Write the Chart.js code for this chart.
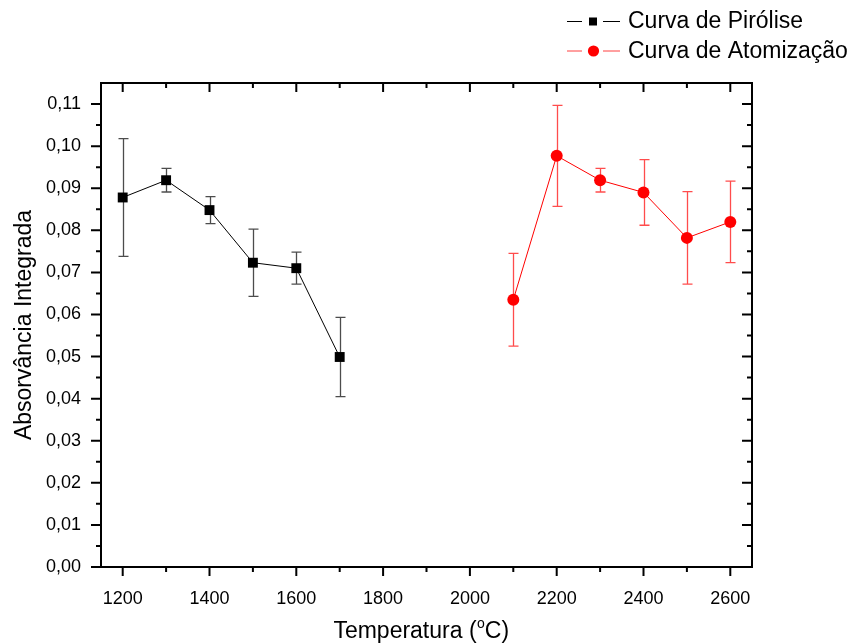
<!DOCTYPE html>
<html lang="pt">
<head>
    <meta charset="UTF-8">
    <title>Curvas de Pirólise e Atomização</title>
    <script src="https://cdn.jsdelivr.net/npm/chart.js"></script>
    <style>
        body { margin: 0; background: #fff; }
    </style>
</head>
<body>
    <canvas id="grafico" width="855" height="643"></canvas>

    <script>
        // dados
        const tempPirolise = [1200, 1300, 1400, 1500, 1600, 1700];
        const absPirolise = [0.0878, 0.0919, 0.0848, 0.0723, 0.0710, 0.0499];
        const erroPirolise = [0.0140, 0.0028, 0.0032, 0.0080, 0.0038, 0.0094];

        const tempAtomizacao = [2100, 2200, 2300, 2400, 2500, 2600];
        const absAtomizacao = [0.0635, 0.0977, 0.0919, 0.0890, 0.0782, 0.0820];
        const erroAtomizacao = [0.0110, 0.0120, 0.0028, 0.0078, 0.0110, 0.0097];

        // ticks com rótulo e ticks menores
        const ticksX = [1200, 1400, 1600, 1800, 2000, 2200, 2400, 2600];
        const ticksXMenores = [1300, 1500, 1700, 1900, 2100, 2300, 2500];
        const ticksY = [0, 0.01, 0.02, 0.03, 0.04, 0.05, 0.06, 0.07, 0.08, 0.09, 0.10, 0.11];
        const ticksYMenores = [0.005, 0.015, 0.025, 0.035, 0.045, 0.055, 0.065, 0.075, 0.085, 0.095, 0.105];

        const nomes = ['Curva de Pirólise', 'Curva de Atomização'];
        const cores = ['#000000', '#ff0000'];

        const fonte = '"Liberation Sans", Arial, sans-serif';

        function pontos(xs, ys) {
            return xs.map((x, i) => ({ x: x, y: ys[i] }));
        }

        function ehMaior(lista, v) {
            return lista.some(t => Math.abs(t - v) < 1e-9);
        }

        // barras de erro, eixos com ticks, legenda e títulos
        const extras = {
            id: 'extras',
            beforeDatasetsDraw(chart) {
                const ctx = chart.ctx;
                const sx = chart.scales.x, sy = chart.scales.y;
                const series = [
                    [tempPirolise, absPirolise, erroPirolise, 'rgba(0,0,0,0.7)'],
                    [tempAtomizacao, absAtomizacao, erroAtomizacao, 'rgba(255,0,0,0.7)']
                ];
                ctx.save();
                ctx.lineWidth = 1.3;
                series.forEach(([xs, ys, es, cor]) => {
                    ctx.strokeStyle = cor;
                    xs.forEach((t, i) => {
                        const px = Math.round(sx.getPixelForValue(t)) + 0.5;
                        const y1 = sy.getPixelForValue(ys[i] + es[i]);
                        const y2 = sy.getPixelForValue(ys[i] - es[i]);
                        ctx.beginPath();
                        ctx.moveTo(px, y1); ctx.lineTo(px, y2);
                        ctx.moveTo(px - 5, y1); ctx.lineTo(px + 5, y1);
                        ctx.moveTo(px - 5, y2); ctx.lineTo(px + 5, y2);
                        ctx.stroke();
                    });
                });
                ctx.restore();
            },
            afterDraw(chart) {
                const ctx = chart.ctx;
                const a = chart.chartArea;
                const sx = chart.scales.x, sy = chart.scales.y;
                ctx.save();
                ctx.strokeStyle = '#000';
                ctx.lineWidth = 2;
                ctx.strokeRect(a.left, a.top, a.right - a.left, a.bottom - a.top);

                ctx.beginPath();
                sx.ticks.forEach(t => {
                    const px = sx.getPixelForValue(t.value);
                    const len = ehMaior(ticksX, t.value) ? 9 : 5;
                    ctx.moveTo(px, a.bottom); ctx.lineTo(px, a.bottom + len);
                    ctx.moveTo(px, a.top); ctx.lineTo(px, a.top + len);
                });
                sy.ticks.forEach(t => {
                    const py = sy.getPixelForValue(t.value);
                    const len = ehMaior(ticksY, t.value) ? 10 : 5;
                    ctx.moveTo(a.left, py); ctx.lineTo(a.left - len, py);
                    ctx.moveTo(a.right, py); ctx.lineTo(a.right - len, py);
                });
                ctx.stroke();

                // legenda
                ctx.font = '23px ' + fonte;
                ctx.textBaseline = 'middle';
                const linhas = [21, 50.5];
                linhas.forEach((y, i) => {
                    ctx.strokeStyle = i === 0 ? '#000' : 'rgba(255,0,0,0.75)';
                    ctx.lineWidth = 1;
                    ctx.beginPath();
                    ctx.moveTo(567, y + 0.5); ctx.lineTo(582, y + 0.5);
                    ctx.moveTo(603, y + 0.5); ctx.lineTo(620, y + 0.5);
                    ctx.stroke();
                    ctx.fillStyle = cores[i];
                    if (i === 0) {
                        ctx.fillRect(589, y - 3.5, 8, 8);
                    } else {
                        ctx.beginPath();
                        ctx.arc(593.5, y + 0.5, 5.6, 0, Math.PI * 2);
                        ctx.fill();
                    }
                    ctx.fillStyle = '#000';
                    ctx.fillText(nomes[i], 628, y + 1);
                });

                // título do eixo y
                ctx.save();
                ctx.translate(31, (a.top + a.bottom) / 2);
                ctx.rotate(-Math.PI / 2);
                ctx.textAlign = 'center';
                ctx.textBaseline = 'alphabetic';
                ctx.font = '23px ' + fonte;
                ctx.fillText('Absorvância Integrada', 0, 0);
                ctx.restore();

                // título do eixo x com "o" sobrescrito
                const cx = 421;
                const ty = 638;
                const p1 = 'Temperatura (', p3 = 'C)';
                ctx.font = '23px ' + fonte;
                const w1 = ctx.measureText(p1).width, w3 = ctx.measureText(p3).width;
                ctx.font = '14px ' + fonte;
                const w2 = ctx.measureText('o').width;
                const x0 = cx - (w1 + w2 + w3) / 2;
                ctx.textAlign = 'left';
                ctx.textBaseline = 'alphabetic';
                ctx.font = '23px ' + fonte;
                ctx.fillText(p1, x0, ty);
                ctx.font = '14px ' + fonte;
                ctx.fillText('o', x0 + w1 + 0.5, ty - 10);
                ctx.font = '23px ' + fonte;
                ctx.fillText(p3, x0 + w1 + w2 + 0.5, ty);
                ctx.restore();
            }
        };

        const ctx = document.getElementById('grafico').getContext('2d');
        new Chart(ctx, {
            type: 'line',
            data: {
                datasets: [{
                    label: nomes[0],
                    data: pontos(tempPirolise, absPirolise),
                    borderColor: cores[0],
                    backgroundColor: cores[0],
                    borderWidth: 1,
                    pointStyle: 'rect',
                    pointRadius: 7,
                    pointBorderWidth: 0
                }, {
                    label: nomes[1],
                    data: pontos(tempAtomizacao, absAtomizacao),
                    borderColor: cores[1],
                    backgroundColor: cores[1],
                    borderWidth: 1,
                    pointStyle: 'circle',
                    pointRadius: 6,
                    pointBorderWidth: 0
                }]
            },
            options: {
                responsive: false,
                animation: false,
                layout: { padding: { top: 83, right: 103, left: 0, bottom: 0 } },
                plugins: {
                    legend: { display: false },
                    tooltip: { enabled: false }
                },
                scales: {
                    x: {
                        type: 'linear',
                        min: 1150,
                        max: 2650,
                        grid: { display: false },
                        border: { display: false },
                        afterBuildTicks: s => {
                            s.ticks = ticksX.concat(ticksXMenores).sort((p, q) => p - q).map(v => ({ value: v }));
                        },
                        ticks: {
                            maxRotation: 0,
                            autoSkip: false,
                            padding: 13,
                            color: '#000',
                            font: { family: fonte, size: 18 },
                            callback: v => (ehMaior(ticksX, v) ? String(v) : '')
                        },
                        afterFit: s => { s.height = 76; }
                    },
                    y: {
                        min: 0,
                        max: 0.115,
                        grid: { display: false },
                        border: { display: false },
                        afterBuildTicks: s => {
                            s.ticks = ticksY.concat(ticksYMenores).sort((p, q) => p - q).map(v => ({ value: v }));
                        },
                        ticks: {
                            autoSkip: false,
                            padding: 12,
                            color: '#000',
                            font: { family: fonte, size: 18 },
                            callback: v => (ehMaior(ticksY, v) ? v.toFixed(2).replace('.', ',') : '')
                        },
                        afterFit: s => { s.width = 101; }
                    }
                }
            },
            plugins: [extras]
        });
    </script>
</body>
</html>
